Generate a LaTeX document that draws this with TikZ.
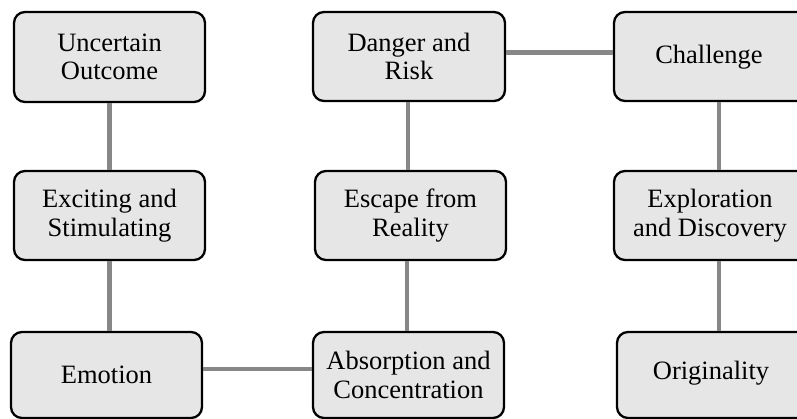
\documentclass[tikz,border=0pt]{standalone}
\usepackage{fontspec}
\setmainfont{Liberation Serif}
\begin{document}
\begin{tikzpicture}[x=1pt,y=-1pt,
  txt/.style={align=center, inner sep=0pt, font=\fontsize{26.5}{28.5}\selectfont},
  box/.style={txt, draw=black, line width=2.3pt, fill=boxfill, rounded corners=11pt},
  conn/.style={draw=conngray, line width=4.8pt}]
\definecolor{boxfill}{HTML}{E6E6E6}
\definecolor{conngray}{HTML}{878787}
\useasboundingbox (0,0) rectangle (797,419);
\clip (0,0) rectangle (797,419);
% top row
\node[box, minimum width=191pt, minimum height=90pt] (unc) at (109.5,57) {Uncertain\\Outcome};
\node[box, minimum width=192pt, minimum height=89pt] (dan) at (409,56.5) {Danger and\\Risk};
\node[box, minimum width=210pt, minimum height=89pt] (cha) at (719,56.5) {};
\node[txt] (chat) at (709,57) {Challenge};
% middle row
\node[box, minimum width=191pt, minimum height=89pt] (exc) at (109.5,215.5) {Exciting and\\Stimulating};
\node[box, minimum width=191pt, minimum height=89pt] (esc) at (410.5,215.5) {Escape from\\Reality};
\node[box, minimum width=210pt, minimum height=89pt] (exp) at (719,215.5) {};
\node[txt] (expt) at (710,215.5) {Exploration\\and Discovery};
% bottom row
\node[box, minimum width=191pt, minimum height=86pt] (emo) at (106.5,375) {Emotion};
\node[box, minimum width=191pt, minimum height=86pt] (abs) at (408.5,375) {Absorption and\\Concentration};
\node[box, minimum width=210pt, minimum height=86pt] (ori) at (722,375) {};
\node[txt] (orit) at (711,373) {Originality};
% connectors
\draw[conn] (unc.south) -- (exc.north);
\draw[conn] (exc.south) -- (emo.north -| exc.south);
\draw[conn] ([yshift=4pt]dan.east) -- ([yshift=4pt]cha.west);
\draw[conn] (dan.south -| 408,0) -- (esc.north -| 408,0);
\draw[conn] (esc.south -| 407,0) -- (abs.north -| 407,0);
\draw[conn] (cha.south) -- (exp.north);
\draw[conn] (exp.south) -- (ori.north -| exp.south);
\draw[conn] ([yshift=6pt]emo.east) -- ([yshift=6pt]abs.west);
\end{tikzpicture}
\end{document}
